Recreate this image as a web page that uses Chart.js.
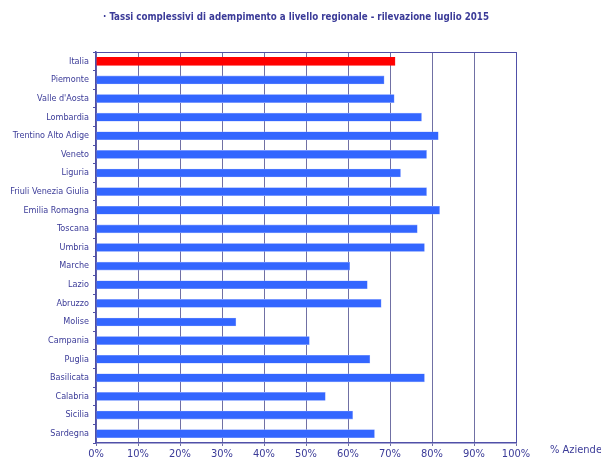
<!DOCTYPE html>
<html>
<head>
<meta charset="utf-8">
<script src="https://cdn.jsdelivr.net/npm/chart.js@4"></script>
<style>
  html, body { margin: 0; padding: 0; background: #fff; }
  #wrap { width: 601px; height: 462px; position: relative; }
</style>
</head>
<body>
<div id="wrap"><canvas id="chart"></canvas></div>
<script>
const regions = ['Italia', 'Piemonte', "Valle d'Aosta", 'Lombardia', 'Trentino Alto Adige', 'Veneto',
    'Liguria', 'Friuli Venezia Giulia', 'Emilia Romagna', 'Toscana', 'Umbria', 'Marche', 'Lazio',
    'Abruzzo', 'Molise', 'Campania', 'Puglia', 'Basilicata', 'Calabria', 'Sicilia', 'Sardegna'];
const adempimento = [71.2, 68.6, 71.0, 77.5, 81.5, 78.7, 72.5, 78.7, 81.8, 76.5, 78.2,
    60.4, 64.6, 67.9, 33.3, 50.8, 65.2, 78.2, 54.6, 61.1, 66.3];
const xTicks = [0, 10, 20, 30, 40, 50, 60, 70, 80, 90, 100];
const titleText = '· Tassi complessivi di adempimento a livello regionale - rilevazione luglio 2015';

const textColor = '#3b3b98';
const gridColor = '#7070a4';
const frameColor = '#5050a8';
const condensed = '"DejaVu Sans Condensed", "Liberation Sans Narrow", sans-serif';

// Title, frame box and x axis unit label
const framePlugin = {
    id: 'frame',
    afterDraw(chart) {
        const { ctx, chartArea: a } = chart;
        ctx.save();
        ctx.strokeStyle = frameColor;
        ctx.lineWidth = 1;
        ctx.beginPath();
        ctx.moveTo(a.left, a.top + 0.5);
        ctx.lineTo(a.right + 0.5, a.top + 0.5);
        ctx.lineTo(a.right + 0.5, a.bottom);
        ctx.stroke();
        ctx.fillStyle = textColor;
        ctx.textBaseline = 'middle';
        ctx.font = '11px ' + condensed;
        ctx.fillText('% Aziende', a.right + 34, a.bottom + 7);
        ctx.font = 'bold 9.7px ' + condensed;
        ctx.textAlign = 'center';
        ctx.fillText(titleText, 296, 17);
        ctx.restore();
    }
};

new Chart(document.getElementById('chart'), {
    type: 'bar',
    data: {
        labels: regions,
        datasets: [{
            data: adempimento,
            backgroundColor: regions.map((r, i) => i === 0 ? '#ff0000' : '#3366ff'),
            borderColor: regions.map((r, i) => i === 0 ? '#ff0000' : '#8fa8ff'),
            borderWidth: 0.6,
            barThickness: 8
        }]
    },
    options: {
        indexAxis: 'y',
        responsive: true,
        maintainAspectRatio: false,
        animation: false,
        layout: { padding: { left: 0, right: 85, top: 52, bottom: 0 } },
        plugins: {
            legend: { display: false },
            tooltip: { enabled: false },
            title: { display: false }
        },
        scales: {
            x: {
                min: 0,
                max: 100,
                afterBuildTicks(scale) { scale.ticks = xTicks.map(v => ({ value: v })); },
                afterFit(scale) { scale.height = 19; },
                ticks: {
                    color: textColor,
                    padding: 2,
                    maxRotation: 0,
                    font: { family: condensed, size: 11 },
                    callback: v => v + '%'
                },
                grid: { color: gridColor, lineWidth: 1, drawTicks: true, tickLength: 3 },
                border: { color: frameColor, width: 1.5 }
            },
            y: {
                afterFit(scale) { scale.width = 96; },
                ticks: {
                    color: textColor,
                    padding: 4,
                    font: { family: condensed, size: 9 }
                },
                grid: { drawOnChartArea: false, drawTicks: true, tickLength: 3, offset: true, color: frameColor },
                border: { color: frameColor, width: 1.5 }
            }
        }
    },
    plugins: [framePlugin]
});
</script>
</body>
</html>
